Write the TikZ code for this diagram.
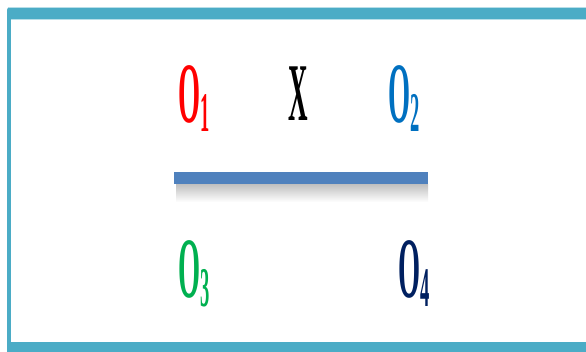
\documentclass[tikz,border=0pt]{standalone}
\usepackage{fontspec}
\setmainfont{Liberation Serif}
\definecolor{framecol}{HTML}{4BACC6}
\definecolor{barcol}{HTML}{4F81BD}
\definecolor{cOone}{HTML}{FF0000}
\definecolor{cOtwo}{HTML}{0070C0}
\definecolor{cOthree}{HTML}{00B050}
\definecolor{cOfour}{HTML}{002060}
\newcommand{\condO}[1]{\scalebox{0.33}[1]{\bfseries\fontsize{86}{86}\selectfont O\raisebox{-9pt}{\fontsize{56}{56}\selectfont #1}}}
\begin{document}
\begin{tikzpicture}[x=1pt,y=-1pt,
  lbl/.style={anchor=base west,inner sep=0pt,outer sep=0pt}]
\useasboundingbox (0,0) rectangle (586,351);
\fill[white] (0,0) rectangle (586,351);
% frame
\fill[framecol,rounded corners=3pt] (7,360) -- (7,7) -- (600,7) -- (600,360) -- cycle;
\fill[white] (11,19) rectangle (600,342);
\draw[framecol!40,line width=0.8pt] (9,7.4) -- (600,7.4);
\draw[framecol!40,line width=0.8pt] (11,19.4) -- (600,19.4);
% labels
\node[lbl,text=cOone] (o1) at (178,122) {\condO{1}};
\node[lbl,text=black] (x) at (288,120) {\scalebox{0.33}[1]{\bfseries\fontsize{82}{82}\selectfont X}};
\node[lbl,text=cOtwo] (o2) at (388,122) {\condO{2}};
\node[lbl,text=cOthree] (o3) at (178,297) {\condO{3}};
\node[lbl,text=cOfour] (o4) at (398,297) {\condO{4}};
% bar with shadow
\coordinate (l1) at (174,178);
\coordinate (l2) at (428,178);
\shade[top color=black!25,bottom color=white] (176,184) rectangle (428,202);
\draw[barcol,line width=12pt] (l1) -- (l2);
\end{tikzpicture}
\end{document}
